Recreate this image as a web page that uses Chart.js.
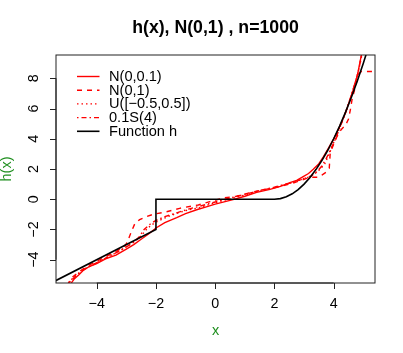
<!DOCTYPE html>
<html><head><meta charset="utf-8">
<script src="https://cdn.jsdelivr.net/npm/chart.js@4"></script>
<style>html,body{margin:0;padding:0;background:#fff;} canvas{display:block;}</style>
</head><body>
<canvas id="c" width="403" height="353"></canvas>
<script>
// ---- data ----
const hX = [-5.6, -2, -2, 2, 2.2, 2.4, 2.6, 2.8, 3.0, 3.2, 3.4, 3.6, 3.8, 4.0, 4.2, 4.4, 4.6, 4.8, 5.0, 5.2];
const hY = [-5.6, -2, 0, 0, 0.04, 0.16, 0.36, 0.64, 1.0, 1.44, 1.96, 2.56, 3.24, 4.0, 4.84, 5.76, 6.76, 7.84, 9.0, 10.24];

const n01X = [-4.88,-4.75,-4.6,-4.45,-4.25,-4.0,-3.7,-3.35,-3.0,-2.75,-2.5,-2.25,-2.0,-1.7,-1.3,-1.0,-0.6,-0.3,0.0,0.3,0.6,1.0,1.4,1.85,2.2,2.52,2.75,2.97,3.15,3.31,3.5,3.65,3.8,3.98,4.15,4.4,4.65,4.8,4.93,5.0];
const n01Y = [-5.6,-5.25,-5.0,-4.7,-4.45,-4.25,-3.95,-3.7,-3.3,-3.0,-2.65,-2.3,-1.9,-1.55,-1.22,-0.95,-0.68,-0.5,-0.32,-0.17,-0.03,0.2,0.45,0.65,0.85,1.1,1.25,1.5,1.7,1.98,2.35,2.8,3.3,3.92,4.6,5.7,7.2,8.2,9.5,10.2];

const n1X = [-5.0,-4.85,-4.6,-4.3,-4.0,-3.6,-3.3,-3.1,-3.0,-2.92,-2.82,-2.71,-2.55,-2.37,-2.1,-1.64,-1.2,-0.57,-0.18,0.27,0.72,1.2,1.7,2.2,2.6,2.9,3.19,3.45,3.6,3.75,3.85,3.88,3.95,4.1,4.25,4.4,4.5,4.56,4.62,4.75,4.85,4.93,5.3];
const n1Y = [-5.7,-5.2,-4.8,-4.4,-4.1,-3.7,-3.4,-3.15,-2.95,-2.6,-2.1,-1.6,-1.35,-1.18,-1.0,-0.83,-0.6,-0.38,-0.16,0.08,0.2,0.45,0.65,0.85,1.05,1.25,1.45,1.45,1.6,1.8,2.05,3.0,3.4,4.1,4.6,4.9,5.3,5.9,6.6,7.6,8.3,8.45,8.45];

const uX = [-4.95,-4.8,-4.55,-4.3,-4.0,-3.6,-3.2,-2.9,-2.65,-2.45,-2.3,-2.15,-1.98,-1.6,-1.3,-0.9,-0.57,-0.2,0.2,0.7,1.2,1.7,2.2,2.6,2.9,3.2,3.4,3.55,3.7,3.85,4.0,4.2,4.45,4.7,4.85,4.98];
const uY = [-5.55,-5.2,-4.8,-4.5,-4.2,-3.8,-3.4,-3.0,-2.7,-2.3,-1.95,-1.7,-1.49,-1.15,-0.93,-0.7,-0.58,-0.35,-0.12,0.12,0.38,0.62,0.88,1.1,1.3,1.5,1.75,2.0,2.35,3.0,3.75,4.7,6.0,7.5,8.6,9.8];

const sX = [-4.92,-4.7,-4.45,-4.15,-3.8,-3.4,-3.0,-2.75,-2.55,-2.4,-2.2,-2.0,-1.7,-1.3,-0.9,-0.5,0.0,0.5,1.0,1.5,2.0,2.5,2.9,3.25,3.45,3.6,3.75,3.9,4.05,4.3,4.55,4.8,4.95];
const sY = [-5.5,-5.05,-4.65,-4.35,-4.0,-3.6,-3.15,-2.85,-2.45,-2.0,-1.65,-1.4,-1.15,-0.9,-0.65,-0.45,-0.18,0.08,0.32,0.58,0.8,1.05,1.3,1.55,1.85,2.2,2.7,3.3,3.95,5.2,6.6,8.2,9.6];

const xTicks = [-4, -2, 0, 2, 4];
const xTickLabels = ['\u22124', '\u22122', '0', '2', '4'];
const yTicks = [-4, -2, 0, 2, 4, 6, 8];
const yTickLabels = ['\u22124', '\u22122', '0', '2', '4', '6', '8'];
const seriesLabels = ['N(0,0.1)', 'N(0,1)', 'U([\u22120.5,0.5])', '0.1S(4)', 'Function h'];
const titleText = 'h(x), N(0,1) , n=1000';
const xLabel = 'x';
const yLabel = 'h(x)';

function pts(xs, ys) { return xs.map((x, i) => ({ x: x, y: ys[i] })); }

const FONT = '"Liberation Sans", Arial, Helvetica, sans-serif';
const GREEN = '#1f8f1f';

const mk = (label, xs, ys, color, dash, width, order) => ({
  label: label, data: pts(xs, ys), showLine: true, pointRadius: 0, fill: false,
  borderColor: color, backgroundColor: color, borderWidth: width, borderDash: dash,
  tension: 0, clip: 0, order: order
});

const datasets = [
  mk(seriesLabels[0], n01X, n01Y, '#ff0000', [], 1.4, 1),
  mk(seriesLabels[1], n1X, n1Y, '#ff0000', [5, 5], 1.4, 2),
  mk(seriesLabels[2], uX, uY, '#ff0000', [1.5, 3], 1.4, 3),
  mk(seriesLabels[3], sX, sY, '#ff0000', [1.5, 3, 5, 3], 1.4, 4),
  mk(seriesLabels[4], hX, hY, '#000000', [], 1.6, 0)
];

const rPlugin = {
  id: 'rstyle',
  afterDraw(chart) {
    const ctx = chart.ctx, a = chart.chartArea, xs = chart.scales.x, ys = chart.scales.y;
    ctx.save();
    ctx.strokeStyle = '#222'; ctx.lineWidth = 1; ctx.setLineDash([]);
    ctx.strokeRect(a.left, a.top, a.right - a.left, a.bottom - a.top);
    // x axis
    ctx.beginPath();
    ctx.moveTo(xs.getPixelForValue(xTicks[0]), a.bottom);
    ctx.lineTo(xs.getPixelForValue(xTicks[xTicks.length - 1]), a.bottom);
    xTicks.forEach(v => { const p = Math.round(xs.getPixelForValue(v)) + 0.5; ctx.moveTo(p, a.bottom); ctx.lineTo(p, a.bottom + 6); });
    // y axis
    ctx.moveTo(a.left, ys.getPixelForValue(yTicks[0]));
    ctx.lineTo(a.left, ys.getPixelForValue(yTicks[yTicks.length - 1]));
    yTicks.forEach(v => { const p = Math.round(ys.getPixelForValue(v)) + 0.5; ctx.moveTo(a.left - 6, p); ctx.lineTo(a.left, p); });
    ctx.stroke();

    ctx.fillStyle = '#000';
    ctx.font = '14.3px ' + FONT;
    ctx.textAlign = 'center'; ctx.textBaseline = 'alphabetic';
    xTicks.forEach((v, i) => ctx.fillText(xTickLabels[i], xs.getPixelForValue(v), a.bottom + 25));
    yTicks.forEach((v, i) => {
      ctx.save(); ctx.translate(a.left - 18.5, ys.getPixelForValue(v)); ctx.rotate(-Math.PI / 2);
      ctx.fillText(yTickLabels[i], 0, 0); ctx.restore();
    });

    // title
    ctx.font = 'bold 17.7px ' + FONT;
    ctx.fillText(titleText, (a.left + a.right) / 2, 33.3);

    // axis labels
    ctx.fillStyle = GREEN;
    ctx.font = '14.5px ' + FONT;
    ctx.fillText(xLabel, (a.left + a.right) / 2, a.bottom + 52);
    ctx.save(); ctx.translate(a.left - 45.5, (a.top + a.bottom) / 2); ctx.rotate(-Math.PI / 2);
    ctx.fillText(yLabel, 0, 0); ctx.restore();

    // legend (no box)
    ctx.font = '14.6px ' + FONT;
    ctx.textAlign = 'left'; ctx.textBaseline = 'middle';
    const order = [0, 1, 2, 3, 4];
    order.forEach((di, r) => {
      const ds = chart.data.datasets[di];
      const yy = a.top + 21.5 + r * 13.7;
      ctx.strokeStyle = ds.borderColor; ctx.lineWidth = ds.borderWidth;
      ctx.setLineDash(ds.borderDash || []);
      ctx.beginPath(); ctx.moveTo(a.left + 21, yy); ctx.lineTo(a.left + 43.5, yy); ctx.stroke();
      ctx.fillStyle = '#000';
      ctx.fillText(ds.label, a.left + 53, yy + 0.5);
    });
    ctx.restore();
  }
};

new Chart(document.getElementById('c'), {
  type: 'scatter',
  data: { datasets: datasets },
  options: {
    responsive: false, animation: false, devicePixelRatio: 1,
    layout: { padding: { left: 56, top: 55, right: 28, bottom: 70 } },
    scales: {
      x: { type: 'linear', min: -5.374, max: 5.394, display: false },
      y: { type: 'linear', min: -5.54, max: 9.54, display: false }
    },
    plugins: { legend: { display: false }, tooltip: { enabled: false } },
    elements: { point: { radius: 0 } }
  },
  plugins: [rPlugin]
});
</script>
</body></html>
